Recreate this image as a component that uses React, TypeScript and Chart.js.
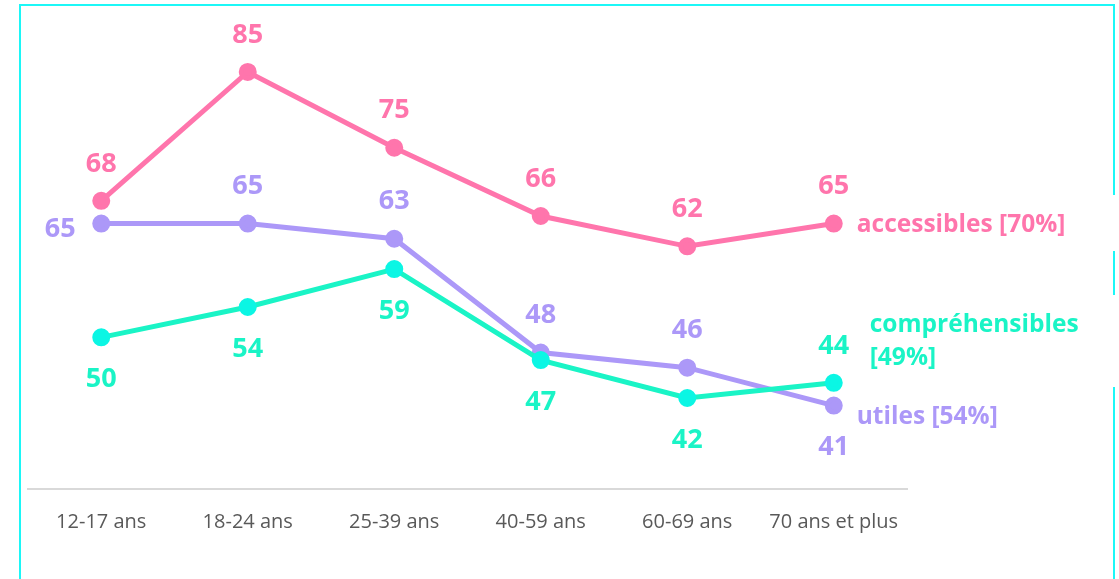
import React, { useEffect, useRef } from "react";
import { Chart, registerables } from "chart.js";

Chart.register(...registerables);

const categories = ["12-17 ans", "18-24 ans", "25-39 ans", "40-59 ans", "60-69 ans", "70 ans et plus"];
const accessibles = [68, 85, 75, 66, 62, 65];
const utiles = [65, 65, 63, 48, 46, 41];
const comprehensibles = [50, 54, 59, 47, 42, 44];
const seriesNames = ["accessibles [70%]", "utiles [54%]", "compréhensibles\n[49%]"];

const PINK = "#FF75AC";
const PURPLE = "#AC98F8";
const GREEN = "#1AF4C6";
const CYAN_PT = "#0BF6E4";

const labelFont = "bold 27px 'Open Sans'";
const nameFont = "bold 24.5px 'Open Sans'";

const labelsPlugin = {
  id: "valueLabels",
  afterDatasetsDraw(chart: any) {
    const ctx = chart.ctx;
    ctx.save();
    chart.data.datasets.forEach((ds: any, di: number) => {
      const meta = chart.getDatasetMeta(di);
      ctx.fillStyle = ds.labelColor;
      ctx.font = labelFont;
      ctx.textAlign = "center";
      ctx.textBaseline = "middle";
      meta.data.forEach((el: any, i: number) => {
        const place = ds.labelPlace[i];
        let x = el.x;
        let y = el.y;
        if (place === "above") y -= 37;
        else if (place === "below") y += 42;
        else if (place === "left") {
          x -= 41;
          y += 6;
        }
        ctx.fillText(String(ds.data[i]), x, y);
      });
      const last = meta.data[meta.data.length - 1];
      ctx.font = nameFont;
      ctx.textAlign = "left";
      const lines = String(ds.label).split("\n");
      lines.forEach((ln: string, li: number) => {
        ctx.fillText(ln, last.x + ds.nameDx, last.y + ds.nameDy + li * 33);
      });
    });
    ctx.restore();
  },
};

const framePlugin = {
  id: "frame",
  beforeDraw(chart: any) {
    const ctx = chart.ctx;
    ctx.save();
    ctx.strokeStyle = "#1CF7F7";
    ctx.lineWidth = 2;
    ctx.beginPath();
    ctx.moveTo(20, 579);
    ctx.lineTo(20, 5);
    ctx.lineTo(1114, 5);
    ctx.lineTo(1114, 195);
    ctx.moveTo(1114, 251);
    ctx.lineTo(1114, 295);
    ctx.moveTo(1114, 387);
    ctx.lineTo(1114, 579);
    ctx.stroke();
    ctx.restore();
  },
};

export default function App() {
  const ref = useRef<HTMLCanvasElement>(null);
  useEffect(() => {
    if (!ref.current) return;
    const chart = new Chart(ref.current, {
      type: "line",
      data: {
        labels: categories,
        datasets: [
          {
            label: seriesNames[0],
            data: accessibles,
            borderColor: PINK,
            backgroundColor: PINK,
            pointBackgroundColor: PINK,
            pointBorderColor: PINK,
            borderWidth: 5,
            pointRadius: 6.5,
            labelColor: PINK,
            labelPlace: ["above", "above", "above", "above", "above", "above"],
            nameDx: 23,
            nameDy: 1,
          } as any,
          {
            label: seriesNames[2],
            data: comprehensibles,
            borderColor: GREEN,
            backgroundColor: CYAN_PT,
            pointBackgroundColor: CYAN_PT,
            pointBorderColor: CYAN_PT,
            borderWidth: 5,
            pointRadius: 6.5,
            labelColor: GREEN,
            labelPlace: ["below", "below", "below", "below", "below", "above"],
            nameDx: 36,
            nameDy: -58,
          } as any,
          {
            label: seriesNames[1],
            data: utiles,
            borderColor: PURPLE,
            backgroundColor: PURPLE,
            pointBackgroundColor: PURPLE,
            pointBorderColor: PURPLE,
            borderWidth: 5,
            pointRadius: 6.5,
            labelColor: PURPLE,
            labelPlace: ["left", "above", "above", "above", "above", "below"],
            nameDx: 23,
            nameDy: 11,
          } as any,
        ],
      },
      options: {
        animation: false,
        responsive: false,
        maintainAspectRatio: false,
        layout: { padding: { left: 28, right: 212, top: 34, bottom: 0 } },
        plugins: {
          legend: { display: false },
          tooltip: { enabled: false },
        },
        scales: {
          y: { display: false, min: 30, max: 90 },
          x: {
            offset: true,
            grid: { display: false, drawTicks: false },
            border: { display: true, color: "#D9D9D9", width: 2 },
            ticks: {
              color: "#595959",
              font: { family: "Open Sans", size: 20 },
              padding: 21,
              maxRotation: 0,
              autoSkip: false,
            },
            afterFit: (scale: any) => {
              scale.height = 90;
            },
          },
        },
      },
      plugins: [framePlugin, labelsPlugin],
    });
    return () => chart.destroy();
  }, []);
  return (
    <div style={{ position: "absolute", left: 0, top: 0, width: 1119, height: 579, background: "#fff" }}>
      <canvas ref={ref} width={1119} height={579} style={{ display: "block" }} />
    </div>
  );
}
